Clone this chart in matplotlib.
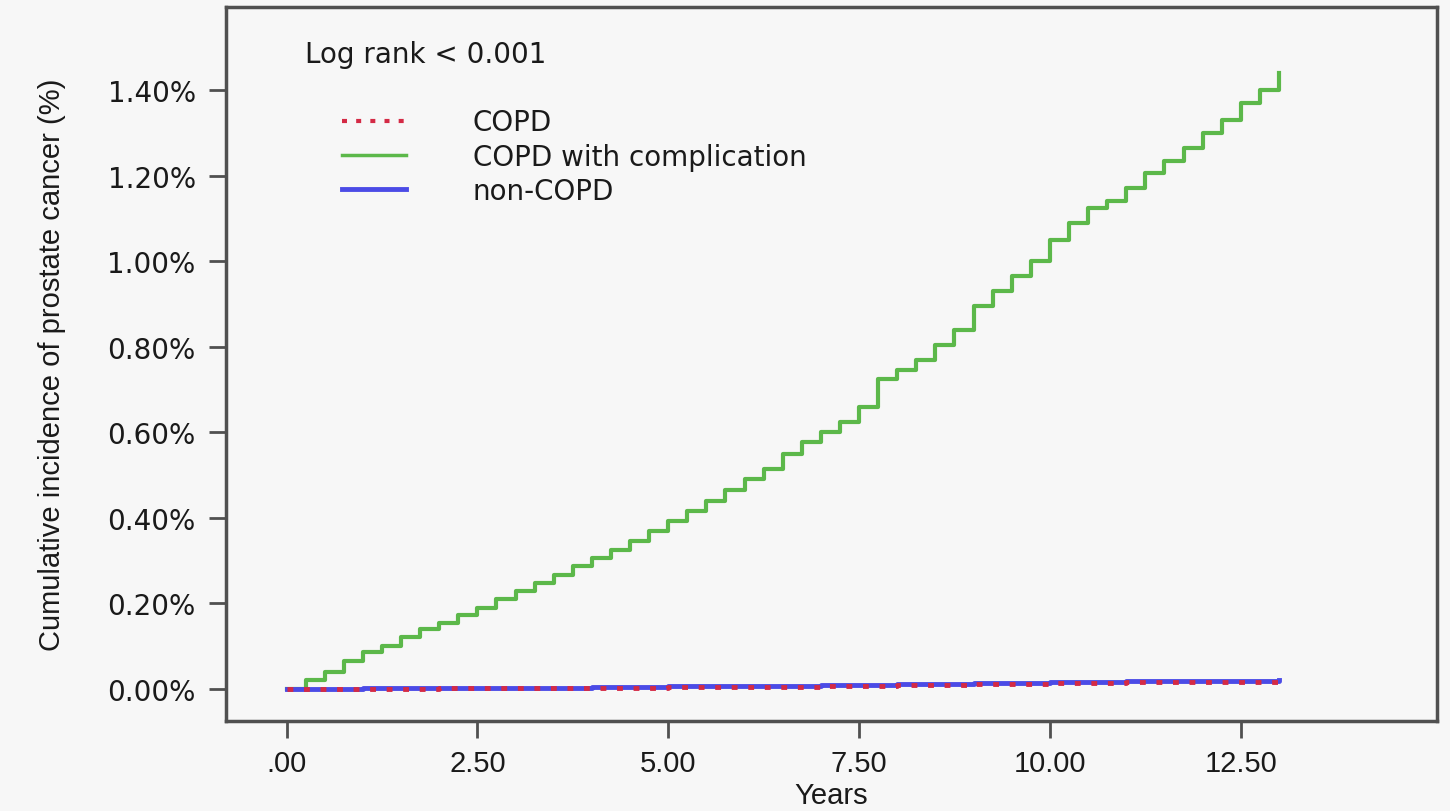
import numpy as np
import matplotlib.pyplot as plt
from matplotlib.lines import Line2D

# Data (cumulative incidence, %)
years = [0.0, 0.25, 0.5, 0.75, 1.0, 1.25, 1.5, 1.75, 2.0, 2.25, 2.5, 2.75,
         3.0, 3.25, 3.5, 3.75, 4.0, 4.25, 4.5, 4.75, 5.0, 5.25, 5.5, 5.75,
         6.0, 6.25, 6.5, 6.75, 7.0, 7.25, 7.5, 7.75, 8.0, 8.25, 8.5, 8.75,
         9.0, 9.25, 9.5, 9.75, 10.0, 10.25, 10.5, 10.75, 11.0, 11.25, 11.5,
         11.75, 12.0, 12.25, 12.5, 12.75, 13.0]
copd_compl = [0.000, 0.020, 0.040, 0.065, 0.085, 0.100, 0.120, 0.140, 0.155,
              0.172, 0.190, 0.210, 0.228, 0.248, 0.265, 0.288, 0.305, 0.325,
              0.345, 0.368, 0.392, 0.415, 0.440, 0.465, 0.490, 0.515, 0.548,
              0.578, 0.600, 0.625, 0.660, 0.725, 0.745, 0.770, 0.805, 0.840,
              0.895, 0.930, 0.965, 1.000, 1.050, 1.090, 1.125, 1.140, 1.170,
              1.205, 1.235, 1.265, 1.300, 1.330, 1.370, 1.400, 1.440]

years_low = [0.0, 1.0, 2.0, 3.0, 4.0, 5.0, 6.0, 7.0, 8.0, 9.0, 10.0, 11.0, 12.0, 13.0]
non_copd = [0.000, 0.001, 0.002, 0.003, 0.004, 0.006, 0.007, 0.009, 0.011,
            0.013, 0.015, 0.018, 0.019, 0.021]
copd = [0.000, 0.000, 0.001, 0.002, 0.003, 0.004, 0.005, 0.007, 0.009,
        0.011, 0.013, 0.015, 0.016, 0.018]

x_ticks = [0, 2.5, 5.0, 7.5, 10.0, 12.5]
x_labels = [".00", "2.50", "5.00", "7.50", "10.00", "12.50"]
y_ticks = [0.0, 0.2, 0.4, 0.6, 0.8, 1.0, 1.2, 1.4]

green = "#5cb84a"
blue = "#4b4be6"
red = "#d42a45"
bg = "#f7f7f7"
edge = "#505050"
txt = "#1a1a1a"

narrow = "Liberation Sans"
wide = "DejaVu Sans"

fig = plt.figure(figsize=(14.5, 8.12), dpi=100, facecolor=bg)
ax = fig.add_axes([0.156, 0.111, 0.835, 0.879], facecolor=bg)

ax.step(years, copd_compl, where="post", color=green, lw=3)
ax.step(years_low, non_copd, where="post", color=blue, lw=3.5)
ax.step(years_low, copd, where="post", color=red, lw=3.5, linestyle=(0, (1.2, 2.2)))

ax.set_xlim(-0.79, 15.07)
ax.set_ylim(-0.075, 1.594)

ax.set_xticks(x_ticks)
ax.set_xticklabels(x_labels, family=narrow, fontsize=21, color=txt)
ax.set_yticks(y_ticks)
ax.set_yticklabels(["%.2f%%" % v for v in y_ticks], family=wide, fontsize=20, color=txt)
ax.tick_params(axis="both", direction="out", length=12, width=2, color=edge)
ax.tick_params(axis="x", pad=8)
ax.tick_params(axis="y", pad=10)

for s in ax.spines.values():
    s.set_color(edge)
    s.set_linewidth(2.5)

ax.set_xlabel("Years", family=narrow, fontsize=21, labelpad=3, color=txt)
ax.set_ylabel("Cumulative incidence of prostate cancer (%)", family=narrow,
              fontsize=21, labelpad=30, color=txt)

ax.text(0.065, 0.934, "Log rank < 0.001", transform=ax.transAxes,
        family=wide, fontsize=20, va="center", ha="left", color=txt)

handles = [Line2D([], [], color=red, lw=3, linestyle=(0, (1.2, 2.2))),
           Line2D([], [], color=green, lw=2.5),
           Line2D([], [], color=blue, lw=3.5)]
ax.legend(handles, ["COPD", "COPD with complication", "non-COPD"],
          loc="upper left", bbox_to_anchor=(0.075, 0.893), frameon=False,
          prop={"family": wide, "size": 20}, handlelength=2.3,
          handletextpad=2.4, labelspacing=0.22, labelcolor=txt)

fig.savefig("out.png", dpi=100, facecolor=bg)
